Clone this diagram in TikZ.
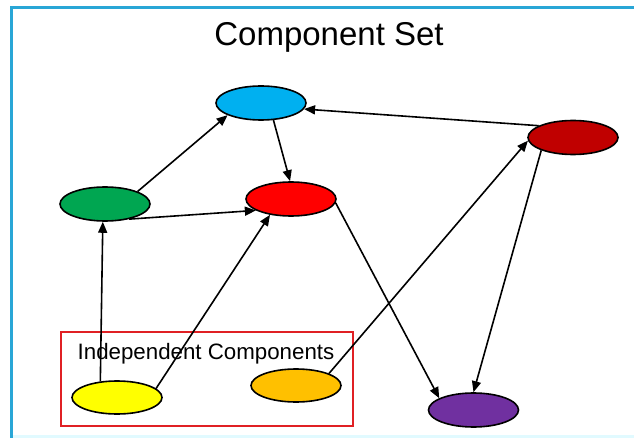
\documentclass[tikz,border=0pt]{standalone}
\usepackage{fontspec}
\setmainfont{Liberation Sans}
\usetikzlibrary{shapes.geometric,arrows.meta}
\definecolor{frameblue}{RGB}{41,166,214}
\definecolor{faintcyan}{RGB}{225,250,255}
\definecolor{cblue}{RGB}{0,176,240}
\definecolor{cgreen}{RGB}{0,166,81}
\definecolor{cred}{RGB}{255,0,0}
\definecolor{cdarkred}{RGB}{192,0,0}
\definecolor{cyellow}{RGB}{255,255,0}
\definecolor{corange}{RGB}{255,192,0}
\definecolor{cpurple}{RGB}{112,48,160}
\definecolor{boxred}{RGB}{224,32,36}
\tikzset{
  comp/.style={ellipse, draw=black, line width=1.6pt, minimum width=90pt, minimum height=34pt, inner sep=0pt},
  link/.style={line width=1.6pt, -{Triangle[length=11pt,width=9pt]}},
}
\begin{document}
\begin{tikzpicture}[x=1pt,y=-1pt]
\useasboundingbox (0,0) rectangle (634,438);
\fill[white] (0,0) rectangle (634,438);
% frame
\fill[faintcyan] (12,435) rectangle (634,438);
\draw[frameblue, line width=3pt] (11,438) -- (11,7.5) -- (634,7.5);
% title
\node[anchor=base, font=\fontsize{33}{36}\selectfont, inner sep=0pt] (title) at (329,46) {Component Set};
% independent box
\node[draw=boxred, line width=2.8pt, minimum width=292pt, minimum height=94pt, inner sep=0pt] (box) at (207,379) {};
\node[anchor=base, font=\fontsize{22.3}{24}\selectfont, inner sep=0pt] (label) at (206,359) {Independent Components};
% components
\node[comp, fill=cblue] (blue) at (261,103) {};
\node[comp, fill=cgreen] (green) at (105,204) {};
\node[comp, fill=cred] (red) at (291,199) {};
\node[comp, fill=cdarkred] (darkred) at (573,137.5) {};
\node[comp, fill=cyellow, minimum height=33pt] (yellow) at (117,397.5) {};
\node[comp, fill=corange, minimum height=33pt] (orange) at (296,385.5) {};
\node[comp, fill=cpurple] (purple) at (473.5,410) {};
% connectors
\draw[link] (green.21) -- (blue.200);
\draw[link] (blue.306) -- (red.93);
\draw[link] (green.328) -- (red.198);
\draw[link] (darkred.161) -- (blue.352);
\draw[link] (orange.20) -- (darkred.184);
\draw[link] (darkred.202) -- (purple.90);
\draw[link] (red.355) -- (purple.161);
\draw[link] (yellow.136) -- (green.263);
\draw[link] (yellow.13) -- (red.217);
\end{tikzpicture}
\end{document}
